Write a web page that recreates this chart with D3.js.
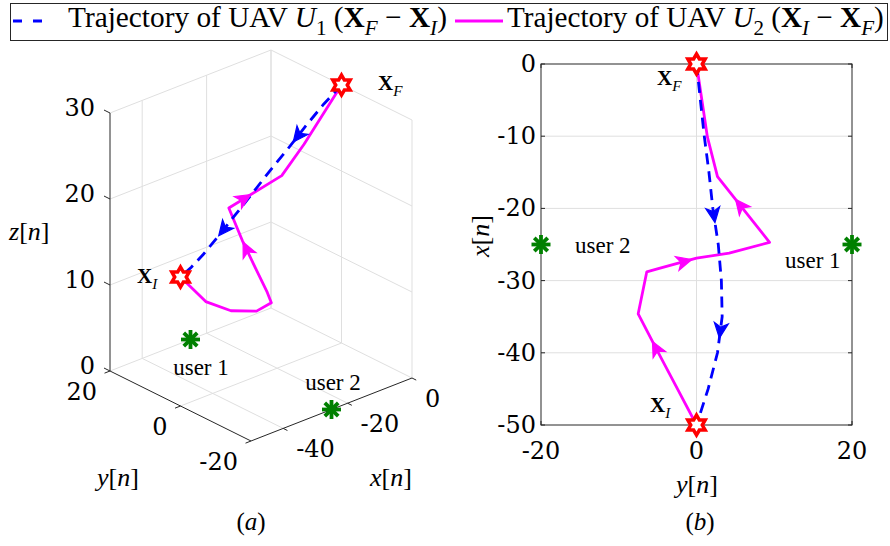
<!DOCTYPE html>
<html>
<head>
<meta charset="utf-8">
<script src="https://cdn.jsdelivr.net/npm/d3@7"></script>
<style>
  body { margin: 0; background: #fff; }
  svg { display: block; }
</style>
</head>
<body>
<script>
"use strict";

// ---------- data ----------
// UAV U2 trajectory (magenta), from X_I to X_F, points as [x, y, z]
const u2Path = [
  [-50, 0, 15], [-44.9, -2.5, 11.9], [-39.8, -5.0, 10.6], [-34.6, -7.5, 10.3],
  [-28.8, -6.4, 10.2], [-28.3, -4.8, 11.0], [-26.9, 0, 12.8], [-26.2, 4.2, 14.9],
  [-24.7, 9.4, 17.4], [-15.6, 2.7, 21.2], [-10.1, 1.4, 24.3], [0, 0, 30]
];
// UAV U1 trajectory (blue dashed), from X_F to X_I
const u1Path = [
  [0, 0, 30], [-5, 0.5, 28.4], [-10, 1.0, 26.5], [-15, 1.6, 24.4], [-20, 2.1, 22.5],
  [-25, 2.8, 20.3], [-30, 3.2, 18.4], [-35, 3.3, 16.7], [-40, 2.7, 15.6],
  [-45, 1.5, 15.1], [-50, 0, 15]
];
const pointXI = [-50, 0, 15];
const pointXF = [0, 0, 30];
const userNames = ["user 1", "user 2"];
const userX = [-25, -25];
const userY = [20, -20];

// arrow heads: [segment index, fraction along that segment]
const u1Arrows3d = [[2, 0.45], [6, 0.64]];
const u2Arrows3d = [[6, 0.7], [8, 0.3]];
const u1Arrows2d = [[4, 0.2], [7, 0.4]];
const u2Arrows2d = [[2, 0.1], [5, 0.69], [8, 0.57]];

// ticks
const xTicks3d = [-40, -20, 0];
const yTicks3d = [20, 0, -20];
const zTicks3d = [0, 10, 20, 30];
const xTicks2d = [0, -10, -20, -30, -40, -50];   // vertical axis of (b)
const yTicks2d = [-20, 0, 20];                    // horizontal axis of (b)

const SERIF = "'Liberation Serif', 'Times New Roman', serif";
const NUMF = "'DejaVu Serif', serif";
const AX = "#262626", GRID = "#dfdfdf";
const BLUE = "#0000ff", MAG = "#ff00ff", RED = "#ff0000", GREEN = "#008000";

const W = 890, H = 546;
const svg = d3.select("body").append("svg").attr("width", W).attr("height", H);

// ---------- helpers ----------
function mathText(sel, segs, size) {
  const t = sel.append("text").attr("font-family", SERIF).attr("font-size", size).attr("fill", "#000");
  let inSub = false;
  segs.forEach(([s, st]) => {
    const sp = t.append("tspan").text(s);
    const isSub = st[0] === "s";
    if (isSub && !inSub) sp.attr("dy", size * 0.28);
    if (!isSub && inSub) sp.attr("dy", -size * 0.28);
    inSub = isSub;
    if (isSub) sp.attr("font-size", size * 0.72);
    if (st.includes("i")) sp.attr("font-style", "italic");
    if (st === "b") sp.attr("font-weight", "bold");
  });
  return t;
}

function hexagram(g, p) {
  const R = 10, r = R / Math.sqrt(3);
  const pts = d3.range(12).map(i => {
    const a = -Math.PI / 2 + i * Math.PI / 6, rr = i % 2 ? r : R;
    return [p[0] + rr * Math.cos(a), p[1] + rr * Math.sin(a)];
  });
  g.append("polygon").attr("points", pts.map(d => d.join(",")).join(" "))
    .attr("fill", "#fff").attr("stroke", RED).attr("stroke-width", 3.5)
    .attr("stroke-linejoin", "miter");
}

function asterisk(g, p) {
  const L = 9.5;
  [0, 45, 90, 135].forEach(deg => {
    const a = deg * Math.PI / 180;
    g.append("line")
      .attr("x1", p[0] - L * Math.cos(a)).attr("y1", p[1] - L * Math.sin(a))
      .attr("x2", p[0] + L * Math.cos(a)).attr("y2", p[1] + L * Math.sin(a))
      .attr("stroke", GREEN).attr("stroke-width", 3.8);
  });
}

function arrowHead(g, pts, seg, t, color) {
  const a = pts[seg], b = pts[seg + 1];
  const p = [a[0] + (b[0] - a[0]) * t, a[1] + (b[1] - a[1]) * t];
  const ang = Math.atan2(b[1] - a[1], b[0] - a[0]) * 180 / Math.PI;
  g.append("path")
    .attr("d", "M7,0 L-8,-7 L-4,0 L-8,7 Z")
    .attr("transform", `translate(${p[0]},${p[1]}) rotate(${ang})`)
    .attr("fill", color).attr("stroke", color).attr("stroke-width", 1.2)
    .attr("stroke-linejoin", "miter");
}

const line = d3.line();

// ---------- legend ----------
const leg = svg.append("g");
leg.append("rect").attr("x", 10.5).attr("y", 3.5).attr("width", 877).attr("height", 37)
  .attr("fill", "#fff").attr("stroke", AX).attr("stroke-width", 1);
leg.append("line").attr("x1", 13).attr("x2", 43).attr("y1", 21).attr("y2", 21)
  .attr("stroke", BLUE).attr("stroke-width", 3).attr("stroke-dasharray", "9,11");
leg.append("line").attr("x1", 455).attr("x2", 503).attr("y1", 21).attr("y2", 21)
  .attr("stroke", MAG).attr("stroke-width", 3);

const legendItems = [
  { x: 68, w: 379, segs: [["Trajectory of UAV ", "r"], ["U", "i"], ["1", "s"], [" (", "r"], ["X", "b"], ["F", "si"], [" \u2212 ", "r"], ["X", "b"], ["I", "si"], [")", "r"]] },
  { x: 507, w: 377, segs: [["Trajectory of UAV ", "r"], ["U", "i"], ["2", "s"], [" (", "r"], ["X", "b"], ["I", "si"], [" \u2212 ", "r"], ["X", "b"], ["F", "si"], [")", "r"]] }
];
legendItems.forEach(it => {
  const probe = mathText(leg, it.segs, 20);
  const len = probe.node().getComputedTextLength();
  probe.remove();
  mathText(leg, it.segs, 20 * it.w / len).attr("x", it.x).attr("y", 27);
});

// ---------- (a) 3D view ----------
const g3 = svg.append("g");
const sx3 = d3.scaleLinear().domain([-50, 0]).range([0, 1]);
const sy3 = d3.scaleLinear().domain([-20, 20]).range([0, 1]);
const sz3 = d3.scaleLinear().domain([0, 30]).range([0, 1]);
const O3 = [251, 441], VX = [161, -63], VY = [-141, -70], VZ = [0, -258];
function proj(p) {
  const a = sx3(p[0]), b = sy3(p[1]), c = sz3(p[2]);
  return [O3[0] + VX[0] * a + VY[0] * b + VZ[0] * c,
          O3[1] + VX[1] * a + VY[1] * b + VZ[1] * c];
}
function seg3(p, q, color, w) {
  g3.append("path").attr("d", line([proj(p), proj(q)]))
    .attr("stroke", color).attr("stroke-width", w).attr("fill", "none");
}
// grid: back wall y=20, back wall x=0, floor
xTicks3d.forEach(x => seg3([x, 20, 0], [x, 20, 30], GRID, 1));
yTicks3d.forEach(y => seg3([0, y, 0], [0, y, 30], GRID, 1));
zTicks3d.filter(z => z > 0).forEach(z => {
  seg3([-50, 20, z], [0, 20, z], GRID, 1);
  seg3([0, 20, z], [0, -20, z], GRID, 1);
});
xTicks3d.forEach(x => seg3([x, -20, 0], [x, 20, 0], GRID, 1));
yTicks3d.filter(y => y > -20).forEach(y => seg3([-50, y, 0], [0, y, 0], GRID, 1));
// axes
seg3([-50, 20, 0], [-50, 20, 30], AX, 1);
seg3([-50, 20, 0], [-50, -20, 0], AX, 1);
seg3([-50, -20, 0], [0, -20, 0], AX, 1);
// ticks (outward) + labels
zTicks3d.forEach(z => {
  seg3([-50, 20, z], [-50, 21.7, z], AX, 1);
  const p = proj([-50, 20, z]);
  g3.append("text").attr("x", 95).attr("y", p[1] - 5).attr("text-anchor", "end")
    .attr("dominant-baseline", "central").attr("font-family", NUMF).attr("font-size", 24).text(z);
});
yTicks3d.forEach(y => {
  seg3([-50, y, 0], [-51.7, y, 0], AX, 1);
  const p = proj([-50, y, 0]);
  g3.append("text").attr("x", p[0] - 13).attr("y", p[1] + 21).attr("text-anchor", "end")
    .attr("dominant-baseline", "central").attr("font-family", NUMF).attr("font-size", 24).text(y);
});
xTicks3d.forEach(x => {
  seg3([x, -20, 0], [x, -21.2, 0], AX, 1);
  const p = proj([x, -20, 0]);
  g3.append("text").attr("x", p[0] + 13).attr("y", p[1] + 21).attr("text-anchor", "start")
    .attr("dominant-baseline", "central").attr("font-family", NUMF).attr("font-size", 24).text(x);
});
// trajectories
const u2Pts3 = u2Path.map(proj), u1Pts3 = u1Path.map(proj);
g3.append("path").attr("d", line(u2Pts3)).attr("fill", "none")
  .attr("stroke", MAG).attr("stroke-width", 2.8).attr("stroke-linejoin", "round");
g3.append("path").attr("d", line(u1Pts3)).attr("fill", "none")
  .attr("stroke", BLUE).attr("stroke-width", 2.8).attr("stroke-dasharray", "11,7");
u2Arrows3d.forEach(([s, t]) => arrowHead(g3, u2Pts3, s, t, MAG));
u1Arrows3d.forEach(([s, t]) => arrowHead(g3, u1Pts3, s, t, BLUE));
hexagram(g3, proj(pointXI));
hexagram(g3, proj(pointXF));
userNames.forEach((n, i) => asterisk(g3, proj([userX[i], userY[i], 0])));
// annotations
mathText(g3, [["X", "b"], ["I", "si"]], 21).attr("x", 137).attr("y", 283);
mathText(g3, [["X", "b"], ["F", "si"]], 21).attr("x", 378).attr("y", 90);
g3.append("text").attr("x", 201).attr("y", 375).attr("text-anchor", "middle")
  .attr("font-family", SERIF).attr("font-size", 23).text(userNames[0]);
g3.append("text").attr("x", 333).attr("y", 390).attr("text-anchor", "middle")
  .attr("font-family", SERIF).attr("font-size", 23).text(userNames[1]);
mathText(g3, [["z", "i"], ["[", "r"], ["n", "i"], ["]", "r"]], 26).attr("x", 9).attr("y", 240);
mathText(g3, [["y", "i"], ["[", "r"], ["n", "i"], ["]", "r"]], 26).attr("x", 97).attr("y", 486);
mathText(g3, [["x", "i"], ["[", "r"], ["n", "i"], ["]", "r"]], 26).attr("x", 370).attr("y", 486);
mathText(g3, [["(", "r"], ["a", "i"], [")", "r"]], 25).attr("x", 251).attr("y", 530).attr("text-anchor", "middle");

// ---------- (b) top view ----------
const g2 = svg.append("g");
const hx = d3.scaleLinear().domain([-20, 20]).range([541, 852]);   // y[n]
const vy = d3.scaleLinear().domain([-50, 0]).range([425, 64]);      // x[n]
const to2 = p => [hx(p[1]), vy(p[0])];

yTicks2d.filter(d => d > -20 && d < 20).forEach(d =>
  g2.append("line").attr("x1", hx(d)).attr("x2", hx(d)).attr("y1", vy(0)).attr("y2", vy(-50))
    .attr("stroke", GRID).attr("stroke-width", 1));
xTicks2d.filter(d => d > -50 && d < 0).forEach(d =>
  g2.append("line").attr("x1", hx(-20)).attr("x2", hx(20)).attr("y1", vy(d)).attr("y2", vy(d))
    .attr("stroke", GRID).attr("stroke-width", 1));
g2.append("rect").attr("x", hx(-20)).attr("y", vy(0)).attr("width", hx(20) - hx(-20))
  .attr("height", vy(-50) - vy(0)).attr("fill", "none").attr("stroke", AX).attr("stroke-width", 1);
xTicks2d.forEach(d => {
  g2.append("line").attr("x1", hx(-20)).attr("x2", hx(-20) + 4).attr("y1", vy(d)).attr("y2", vy(d)).attr("stroke", AX);
  g2.append("line").attr("x1", hx(20)).attr("x2", hx(20) - 4).attr("y1", vy(d)).attr("y2", vy(d)).attr("stroke", AX);
  g2.append("text").attr("x", 536).attr("y", vy(d)).attr("text-anchor", "end")
    .attr("dominant-baseline", "central").attr("font-family", NUMF).attr("font-size", 24).text(d);
});
yTicks2d.forEach(d => {
  g2.append("line").attr("x1", hx(d)).attr("x2", hx(d)).attr("y1", vy(-50)).attr("y2", vy(-50) - 4).attr("stroke", AX);
  g2.append("line").attr("x1", hx(d)).attr("x2", hx(d)).attr("y1", vy(0)).attr("y2", vy(0) + 4).attr("stroke", AX);
  g2.append("text").attr("x", hx(d)).attr("y", 451).attr("text-anchor", "middle")
    .attr("dominant-baseline", "central").attr("font-family", NUMF).attr("font-size", 24).text(d);
});
const u2Pts2 = u2Path.map(to2), u1Pts2 = u1Path.map(to2);
g2.append("path").attr("d", line(u2Pts2)).attr("fill", "none")
  .attr("stroke", MAG).attr("stroke-width", 2.8).attr("stroke-linejoin", "round");
g2.append("path").attr("d", line(u1Pts2)).attr("fill", "none")
  .attr("stroke", BLUE).attr("stroke-width", 2.8).attr("stroke-dasharray", "11,7");
u2Arrows2d.forEach(([s, t]) => arrowHead(g2, u2Pts2, s, t, MAG));
u1Arrows2d.forEach(([s, t]) => arrowHead(g2, u1Pts2, s, t, BLUE));
hexagram(g2, to2(pointXI));
hexagram(g2, to2(pointXF));
userNames.forEach((n, i) => asterisk(g2, to2([userX[i], userY[i]])));
mathText(g2, [["X", "b"], ["F", "si"]], 21).attr("x", 657).attr("y", 85);
mathText(g2, [["X", "b"], ["I", "si"]], 21).attr("x", 650).attr("y", 412);
g2.append("text").attr("x", 575).attr("y", 253).attr("font-family", SERIF).attr("font-size", 23).text(userNames[1]);
g2.append("text").attr("x", 785).attr("y", 268).attr("font-family", SERIF).attr("font-size", 23).text(userNames[0]);
mathText(g2, [["x", "i"], ["[", "r"], ["n", "i"], ["]", "r"]], 26)
  .attr("text-anchor", "middle").attr("transform", "translate(489,236) rotate(-90)");
mathText(g2, [["y", "i"], ["[", "r"], ["n", "i"], ["]", "r"]], 26).attr("x", 697).attr("y", 493).attr("text-anchor", "middle");
mathText(g2, [["(", "r"], ["b", "i"], [")", "r"]], 25).attr("x", 700).attr("y", 530).attr("text-anchor", "middle");
</script>
</body>
</html>
